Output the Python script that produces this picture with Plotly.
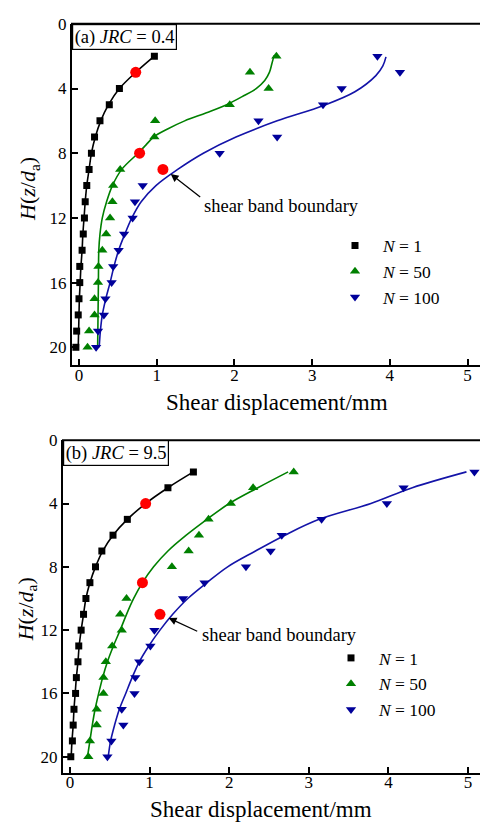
import plotly.graph_objects as go

# ---------------- data: panel (a) JRC = 0.4 ----------------
depth = list(range(2, 21))
a_n1_x = [0.97, 0.73, 0.52, 0.39, 0.27, 0.20, 0.16, 0.13, 0.10, 0.08, 0.07, 0.055, 0.04, 0.01, 0.01, 0.0, -0.01, -0.03, -0.04]
a_n50_y = [2, 3, 4, 5, 6, 7, 9, 10, 11, 12, 13, 14, 15, 16, 17, 18, 19, 20]
a_n50_x = [2.54, 2.20, 2.44, 1.94, 0.98, 0.97, 0.53, 0.44, 0.43, 0.40, 0.35, 0.30, 0.25, 0.245, 0.20, 0.20, 0.13, 0.11]
a_n100_y = [2, 3, 4, 5, 6, 7, 8, 10, 11, 12, 13, 14, 15, 16, 17, 18, 19, 20]
a_n100_x = [3.84, 4.13, 3.38, 3.14, 2.31, 2.55, 1.81, 0.82, 0.72, 0.69, 0.58, 0.51, 0.44, 0.42, 0.34, 0.32, 0.245, 0.22]
a_band_x = [0.73, 0.78, 1.08]
a_band_y = [3, 8, 9]
# fitted curves
a_fit1_x = [0.97, 0.73, 0.52, 0.38, 0.28, 0.21, 0.16, 0.13, 0.10, 0.08, 0.065, 0.05, 0.04, 0.025, 0.015, 0.005, 0.0, -0.005, -0.01]
a_fit1_y = depth
a_fit50_x = [2.51, 2.48, 2.45, 2.39, 2.28, 2.10, 1.90, 1.64, 1.36, 1.14, 0.96, 0.86, 0.76, 0.55, 0.43, 0.355, 0.30, 0.27, 0.255, 0.25, 0.245, 0.24]
a_fit50_y = [1.95, 2.5, 3.0, 3.5, 4.0, 4.5, 5.0, 5.5, 6.0, 6.5, 7.0, 7.5, 8.0, 9.0, 10, 11, 12, 13, 14, 16, 18, 20]
a_fit100_x = [3.95, 3.91, 3.82, 3.55, 3.14, 2.55, 2.02, 1.60, 1.27, 0.99, 0.80, 0.68, 0.59, 0.51, 0.45, 0.40, 0.345, 0.30, 0.275, 0.26]
a_fit100_y = [2.04, 2.6, 3.2, 4.2, 5.06, 6.0, 7.0, 8.0, 9.0, 10.0, 11.0, 12.0, 13, 14, 15, 16, 17, 18, 19, 20]

# ---------------- data: panel (b) JRC = 9.5 ----------------
b_n1_x = [1.55, 1.23, 0.95, 0.72, 0.54, 0.40, 0.32, 0.25, 0.20, 0.17, 0.14, 0.11, 0.10, 0.08, 0.07, 0.05, 0.04, 0.03, 0.01]
b_n50_y = [2, 3, 4, 5, 6, 7, 8, 10, 11, 12, 13, 14, 15, 16, 17, 18, 19, 20]
b_n50_x = [2.81, 2.30, 2.02, 1.74, 1.62, 1.49, 1.28, 0.71, 0.63, 0.65, 0.53, 0.45, 0.42, 0.42, 0.335, 0.335, 0.25, 0.23]
b_n100_y = [2, 3, 4, 5, 6, 7, 8, 9, 10, 12, 13, 14, 15, 16, 17, 18, 19, 20]
b_n100_x = [5.08, 4.19, 3.98, 3.16, 2.66, 2.52, 2.21, 1.69, 1.42, 1.06, 1.01, 0.87, 0.82, 0.81, 0.65, 0.67, 0.52, 0.47]
b_band_x = [0.95, 0.91, 1.13]
b_band_y = [4, 9, 11]
b_fit1_x = [1.55, 1.23, 0.95, 0.72, 0.54, 0.41, 0.32, 0.25, 0.20, 0.17, 0.14, 0.115, 0.10, 0.08, 0.065, 0.05, 0.04, 0.025, 0.015]
b_fit1_y = depth
b_fit50_x = [2.74, 2.36, 2.00, 1.72, 1.46, 1.23, 1.05, 0.91, 0.80, 0.71, 0.63, 0.545, 0.47, 0.41, 0.36, 0.315, 0.28, 0.25, 0.22]
b_fit50_y = depth
b_fit100_x = [4.98, 4.30, 3.78, 3.13, 2.70, 2.33, 1.98, 1.72, 1.48, 1.29, 1.13, 0.99, 0.87, 0.78, 0.70, 0.62, 0.56, 0.51, 0.48]
b_fit100_y = depth

x_ticks = [0, 1, 2, 3, 4, 5]
y_ticks = [0, 4, 8, 12, 16, 20]
legend_names = ["<i>N</i> = 1", "<i>N</i> = 50", "<i>N</i> = 100"]

# ---------------- styles ----------------
FONT = "Liberation Serif, Times New Roman, Times, serif"
BLACK, GREEN, BLUE, BLUE_LINE, RED = "#000000", "#008000", "#00009a", "#1414a8", "#ff0000"
W, H = 480, 823

fig = go.Figure()

def add_panel(xa, ya, legend, fits, series, band):
    for (fx, fy), col in zip(fits, [BLACK, GREEN, BLUE_LINE]):
        fig.add_trace(go.Scatter(x=fx, y=fy, mode="lines", line=dict(color=col, width=1.6, shape="spline", smoothing=1.0),
                                 xaxis=xa, yaxis=ya, showlegend=False, hoverinfo="skip"))
    syms = ["square", "triangle-up", "triangle-down"]
    cols = [BLACK, GREEN, BLUE]
    sizes = [7, 9, 9]
    for (sx, sy), name, sym, col, sz in zip(series, legend_names, syms, cols, sizes):
        fig.add_trace(go.Scatter(x=sx, y=sy, mode="markers", name=name,
                                 marker=dict(symbol=sym, color=col, size=sz, line=dict(width=0)),
                                 xaxis=xa, yaxis=ya, legend=legend))
    fig.add_trace(go.Scatter(x=band[0], y=band[1], mode="markers", marker=dict(symbol="circle", color=RED, size=11, line=dict(width=0)),
                             xaxis=xa, yaxis=ya, showlegend=False))

add_panel("x", "y", "legend",
          [(a_fit1_x, a_fit1_y), (a_fit50_x, a_fit50_y), (a_fit100_x, a_fit100_y)],
          [(a_n1_x, depth), (a_n50_x, a_n50_y), (a_n100_x, a_n100_y)],
          (a_band_x, a_band_y))
add_panel("x2", "y2", "legend2",
          [(b_fit1_x, b_fit1_y), (b_fit50_x, b_fit50_y), (b_fit100_x, b_fit100_y)],
          [(b_n1_x, depth), (b_n50_x, b_n50_y), (b_n100_x, b_n100_y)],
          (b_band_x, b_band_y))

# panel geometry in pixels
A = dict(left=72, top=15, bottom=360)
B = dict(left=63, top=436, bottom=772)

def px(xp):
    return xp / W

def py(yp):
    return 1 - yp / H

axis_common = dict(showline=True, linecolor="black", linewidth=2, ticks="inside", ticklen=6, tickwidth=1.5,
                   tickcolor="black", showgrid=False, zeroline=False,
                   tickfont=dict(family=FONT, size=17, color="black"))

leg_common = dict(xanchor="left", yanchor="top", font=dict(family=FONT, size=17.5, color="black"),
                  bgcolor="rgba(0,0,0,0)", itemwidth=46, tracegroupgap=0)

fig.update_layout(
    width=W, height=H, margin=dict(l=0, r=0, t=0, b=0),
    paper_bgcolor="white", plot_bgcolor="white",
    font=dict(family=FONT, color="black"),
    xaxis=dict(domain=[px(A["left"]), 1.0], range=[-0.09, 5.16], tickvals=x_ticks, anchor="y", ticklabelstandoff=-6, **axis_common),
    yaxis=dict(domain=[py(A["bottom"]), py(A["top"])], range=[21.1, 0], tickvals=y_ticks, anchor="x", ticklabelstandoff=0, **axis_common),
    xaxis2=dict(domain=[px(B["left"]), 1.0], range=[-0.088, 5.15], tickvals=x_ticks, anchor="y2", ticklabelstandoff=-7, **axis_common),
    yaxis2=dict(domain=[py(B["bottom"]), py(B["top"])], range=[21.0, 0], tickvals=y_ticks, anchor="x2", ticklabelstandoff=0, **axis_common),
    legend=dict(x=px(327), y=py(221), **leg_common),
    legend2=dict(x=px(323), y=py(638), **leg_common),
    showlegend=True,
)

# top frame lines
for P in (A, B):
    fig.add_shape(type="line", xref="paper", yref="paper", x0=px(P["left"]) - 1 / W, x1=1.0, y0=py(P["top"]), y1=py(P["top"]),
                  line=dict(color="black", width=2))

ann = []
# panel labels
ann.append(dict(text="(a) <i>JRC</i> = 0.4", xref="paper", yref="paper", x=px(A["left"]), y=py(A["top"]), xanchor="left", yanchor="top",
                showarrow=False, font=dict(family=FONT, size=18.5), bordercolor="black", borderwidth=1.2, borderpad=1.5, bgcolor="white"))
ann.append(dict(text="(b) <i>JRC</i> = 9.5", xref="paper", yref="paper", x=px(B["left"]), y=py(B["top"]), xanchor="left", yanchor="top",
                showarrow=False, font=dict(family=FONT, size=18.5), bordercolor="black", borderwidth=1.2, borderpad=1.5, bgcolor="white"))
# axis titles
ann.append(dict(text="Shear displacement/mm", xref="paper", yref="paper", x=px(277), y=py(398), xanchor="center", yanchor="middle",
                showarrow=False, font=dict(family=FONT, size=23)))
ann.append(dict(text="Shear displacement/mm", xref="paper", yref="paper", x=px(261), y=py(809), xanchor="center", yanchor="middle",
                showarrow=False, font=dict(family=FONT, size=23)))
ytitle = "<i>H</i>(<i>z</i>/<i>d</i><sub>a</sub>)"
ann.append(dict(text=ytitle, xref="paper", yref="paper", x=px(29), y=py(182), xanchor="center", yanchor="middle", textangle=-90,
                showarrow=False, font=dict(family=FONT, size=22)))
ann.append(dict(text=ytitle, xref="paper", yref="paper", x=px(27), y=py(607), xanchor="center", yanchor="middle", textangle=-90,
                showarrow=False, font=dict(family=FONT, size=22)))
# shear band boundary arrows + text
ann.append(dict(text="", x=1.18, y=9.29, xref="x", yref="y", ax=31, ay=24, showarrow=True, arrowhead=2, arrowsize=1.2,
                arrowwidth=1.3, arrowcolor="black"))
ann.append(dict(text="shear band boundary", x=2.61, y=11.27, xref="x", yref="y", showarrow=False, font=dict(family=FONT, size=18.5)))
ann.append(dict(text="", x=1.24, y=11.23, xref="x2", yref="y2", ax=30, ay=14, showarrow=True, arrowhead=2, arrowsize=1.2,
                arrowwidth=1.3, arrowcolor="black"))
ann.append(dict(text="shear band boundary", x=2.63, y=12.31, xref="x2", yref="y2", showarrow=False, font=dict(family=FONT, size=18.5)))
fig.update_layout(annotations=ann)

fig.write_html("out.html")
